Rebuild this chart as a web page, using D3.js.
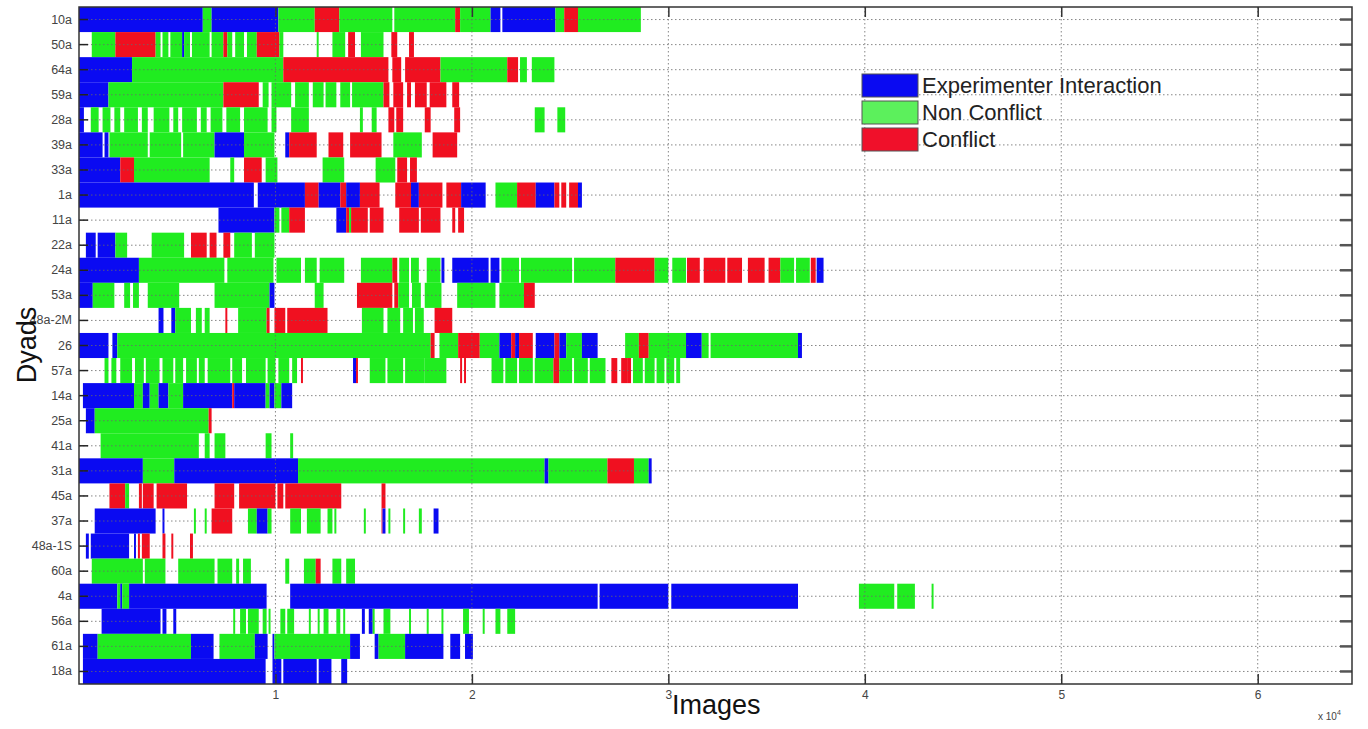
<!DOCTYPE html>
<html>
<head>
<meta charset="utf-8">
<script src="https://cdn.jsdelivr.net/npm/d3@7"></script>
<style>
  html, body { margin: 0; padding: 0; background: #fff; }
  svg { display: block; }
  .tick text { font-family: "Liberation Sans Narrow", "Arial Narrow", "Liberation Sans", sans-serif; }
</style>
</head>
<body>
<svg id="chart" width="1368" height="729"></svg>
<script>
// Dyads, top to bottom
const dyads = ["10a","50a","64a","59a","28a","39a","33a","1a","11a","22a","24a","53a","48a-2M","26",
  "57a","14a","25a","41a","31a","45a","37a","48a-1S","60a","4a","56a","61a","18a"];

// Segment types: E = experimenter interaction, N = non conflict, C = conflict
const legendLabels = ["Experimenter Interaction", "Non Conflict", "Conflict"];
const legendKeys = ["E", "N", "C"];
const xTickValues = [10000, 20000, 30000, 40000, 50000, 60000];

// Each segment: [first image, last image, type]
const d10a = [[0,6300,"E"],[6300,6750,"N"],[6750,10150,"E"],[10150,12000,"N"],[12000,13250,"C"],[13250,15950,"N"],
  [16050,19150,"N"],[19150,19400,"C"],[19400,20950,"N"],[20950,21450,"E"],[21550,24250,"E"],[24250,24700,"N"],
  [24700,25400,"C"],[25400,28600,"N"]];
const d50a = [[650,1850,"N"],[1850,3900,"C"],[3900,4150,"N"],[4250,4550,"N"],[4650,5250,"N"],[5250,5350,"E"],
  [5350,5650,"N"],[5750,6650,"N"],[6750,7350,"N"],[7350,7550,"C"],[7550,7800,"N"],[7950,8400,"N"],[8550,9050,"N"],
  [9050,10200,"C"],[10200,10400,"N"],[12100,12200,"N"],[12900,13550,"N"],[13700,14050,"C"],[14350,15500,"N"],
  [15900,16200,"C"],[16800,17050,"C"]];
const d64a = [[0,2700,"E"],[2700,10400,"N"],[10400,15750,"C"],[15950,16400,"C"],[16600,18400,"C"],[18400,21800,"N"],
  [21800,22350,"C"],[22450,22800,"N"],[23050,24200,"N"]];
const d59a = [[0,1500,"E"],[1500,7350,"N"],[7350,9150,"C"],[9350,9650,"N"],[9800,10800,"N"],[11000,11700,"N"],
  [11900,12450,"N"],[12550,13100,"N"],[13300,13800,"N"],[13900,15500,"N"],[15500,15800,"C"],[16000,16500,"C"],
  [16700,16900,"C"],[17100,17700,"C"],[17850,18700,"C"],[19000,19350,"C"]];
const d28a = [[0,250,"E"],[600,1000,"N"],[1200,1600,"N"],[1800,2100,"N"],[2300,3000,"N"],[3200,3500,"N"],[3800,4600,"N"],
  [4800,5050,"N"],[5250,6000,"N"],[6200,6500,"N"],[6700,7300,"N"],[7500,8200,"N"],[8400,9600,"N"],[9800,10050,"N"],
  [10800,11700,"N"],[14300,14450,"N"],[14900,15150,"N"],[15750,16050,"C"],[16150,16500,"C"],[17600,17900,"C"],
  [19100,19400,"C"],[23200,23700,"N"],[24350,24750,"N"]];
const d39a = [[0,1200,"E"],[1300,1500,"E"],[1550,3500,"N"],[3600,5200,"N"],[5300,6900,"N"],[6900,8400,"E"],[8400,9950,"N"],
  [10500,10700,"E"],[10700,12100,"C"],[12700,13450,"C"],[13800,15400,"C"],[16000,17450,"N"],[18000,19250,"C"]];
const d33a = [[0,2100,"E"],[2100,2800,"C"],[2800,6650,"N"],[7700,7900,"N"],[8400,9300,"C"],[9500,10100,"N"],
  [12400,13500,"N"],[15100,16100,"N"],[16200,16700,"C"],[16850,17200,"C"]];
const d1a = [[0,8900,"E"],[9100,11500,"E"],[11500,12200,"C"],[12200,13300,"E"],[13300,13600,"C"],[13600,14300,"E"],
  [14300,15300,"C"],[16100,16900,"C"],[16900,17300,"E"],[17300,18500,"C"],[18700,19450,"C"],[19450,20700,"E"],
  [21200,22300,"N"],[22300,23250,"C"],[23250,24200,"E"],[24200,24450,"C"],[24550,24800,"C"],[24950,25400,"C"],
  [25400,25600,"E"]];
const d11a = [[7100,9950,"E"],[9950,10200,"N"],[10300,10700,"N"],[10700,11500,"C"],[13100,13600,"E"],[13600,13750,"C"],
  [13750,13850,"N"],[13850,14700,"C"],[14800,15500,"C"],[16300,17300,"C"],[17400,18400,"C"],[19000,19150,"C"],
  [19300,19600,"C"]];
const d22a = [[350,850,"E"],[950,1850,"E"],[1850,2450,"N"],[3700,5350,"N"],[5700,6500,"C"],[6650,7000,"C"],
  [7350,7700,"C"],[7900,8800,"N"],[8950,9950,"N"]];
const d24a = [[0,3050,"E"],[3050,7400,"N"],[7550,9900,"N"],[10050,11300,"N"],[11500,12100,"N"],[12250,13500,"N"],
  [14350,15950,"N"],[15950,16200,"C"],[16300,16800,"N"],[16900,17300,"N"],[17700,18400,"N"],[18450,18600,"E"],
  [19000,20850,"E"],[20950,21400,"E"],[21500,22400,"N"],[22500,25100,"N"],[25200,27300,"N"],[27300,29300,"C"],
  [29300,30000,"N"],[30200,30900,"N"],[30950,31600,"C"],[31800,32900,"C"],[33000,33750,"C"],[34050,34900,"C"],
  [35100,35700,"C"],[35700,36400,"N"],[36500,37200,"N"],[37250,37500,"C"],[37550,37900,"E"]];
const d53a = [[0,700,"E"],[700,1800,"N"],[2300,2600,"N"],[2750,3050,"N"],[3500,5100,"N"],[6900,9700,"N"],[9700,9950,"E"],
  [12000,12450,"N"],[14150,15950,"C"],[16050,16250,"C"],[16250,16800,"N"],[16950,17400,"N"],[17600,18450,"N"],
  [19250,21200,"N"],[21400,22650,"N"],[22650,23200,"C"]];
const d48a2M = [[4050,4300,"E"],[4700,4900,"E"],[4900,5700,"N"],[5950,6250,"N"],[6400,6650,"N"],[7450,7550,"C"],
  [8100,9550,"N"],[9550,9700,"C"],[9950,10500,"C"],[10600,12650,"C"],[14400,15500,"N"],[15700,16350,"N"],
  [16500,17000,"N"],[17100,17550,"N"],[18100,19000,"C"]];
const d26 = [[0,1500,"E"],[1700,1950,"E"],[1950,17900,"N"],[17900,18100,"C"],[18350,19300,"N"],[19300,20400,"C"],
  [20400,21400,"N"],[21400,22000,"E"],[22000,22200,"C"],[22200,22400,"E"],[22400,23100,"C"],[23250,24200,"E"],
  [24200,24450,"C"],[24450,24800,"E"],[24800,25600,"N"],[25600,26400,"E"],[27800,28500,"N"],[28500,29000,"C"],
  [29000,30900,"N"],[30900,31700,"E"],[31700,32050,"N"],[32150,36600,"N"],[36600,36800,"E"]];
const d57a = [[1300,1500,"N"],[1650,1900,"N"],[2100,2700,"N"],[2850,3300,"N"],[3400,4100,"N"],[4250,4800,"N"],
  [4900,5300,"N"],[5450,6000,"N"],[6100,6400,"N"],[6550,7700,"N"],[7800,8300,"N"],[8500,9500,"N"],[9600,10000,"N"],
  [10150,10700,"N"],[10850,11100,"N"],[11300,11400,"C"],[13950,14100,"E"],[14100,14200,"C"],[14800,15600,"N"],
  [15700,16500,"N"],[16600,17600,"N"],[17600,18700,"N"],[19400,19500,"C"],[19600,19700,"C"],[21000,21600,"N"],
  [21700,22300,"N"],[22400,23100,"N"],[23200,24150,"N"],[24150,24450,"C"],[24450,25100,"N"],[25200,25900,"N"],
  [26000,26800,"N"],[27100,27400,"C"],[27600,27900,"C"],[27900,28100,"C"],[28200,28700,"N"],[28800,29300,"N"],
  [29400,29800,"N"],[29900,30300,"N"],[30400,30600,"N"]];
const d14a = [[200,2800,"E"],[2800,3250,"N"],[3250,3600,"E"],[3600,4050,"N"],[4050,4550,"E"],[4550,5300,"N"],
  [5300,7800,"E"],[7800,7900,"C"],[7900,9500,"E"],[9500,9700,"N"],[9700,9950,"E"],[9950,10300,"N"],[10300,10850,"E"]];
const d25a = [[350,800,"E"],[800,6600,"N"],[6600,6750,"C"]];
const d41a = [[1100,6100,"N"],[6400,6650,"N"],[6900,7450,"N"],[9500,9800,"N"],[10750,10900,"N"]];
const d31a = [[0,3250,"E"],[3250,4850,"N"],[4850,11150,"E"],[11150,23700,"N"],[23700,23900,"E"],[23900,26900,"N"],
  [26900,28250,"C"],[28250,29000,"N"],[29000,29150,"E"]];
const d45a = [[1550,2350,"C"],[2350,2550,"N"],[3050,3200,"C"],[3250,3800,"C"],[3950,5500,"C"],[6900,7900,"C"],
  [8150,10000,"C"],[10100,10400,"C"],[10500,13350,"C"],[15400,15600,"C"]];
const d37a = [[800,3900,"E"],[4250,4350,"E"],[5850,5950,"N"],[6400,6500,"N"],[6750,7800,"C"],[8600,9050,"N"],
  [9050,9600,"E"],[9600,9800,"N"],[10750,11300,"N"],[11600,12300,"N"],[12650,12900,"N"],[13000,13100,"N"],
  [14500,14600,"N"],[15400,15450,"C"],[15450,15600,"E"],[15750,15850,"N"],[16500,16600,"N"],[17300,17450,"N"],
  [18050,18300,"E"]];
const d48a1S = [[350,500,"E"],[600,2550,"E"],[2800,2900,"E"],[3000,3100,"C"],[3200,3600,"C"],[4250,4400,"C"],
  [4700,4800,"C"],[5650,5800,"C"]];
const d60a = [[650,3250,"N"],[3350,4400,"N"],[5050,6900,"N"],[7050,7800,"N"],[8000,8150,"N"],[8350,8750,"N"],
  [10500,10700,"N"],[11450,12050,"N"],[12050,12300,"C"],[12900,13350,"N"],[13600,14050,"N"]];
const d4a = [[0,1950,"E"],[1950,2100,"N"],[2100,2200,"E"],[2200,2550,"N"],[2550,9550,"E"],[10750,26400,"E"],
  [26500,30000,"E"],[30150,36600,"E"],[39700,41500,"N"],[41650,42550,"N"],[43400,43500,"N"]];
const d56a = [[1150,4150,"E"],[4250,4450,"E"],[4800,4950,"E"],[7850,7950,"N"],[8200,8500,"N"],[8600,9150,"N"],
  [9350,9550,"N"],[9650,9750,"N"],[10250,10500,"N"],[10600,10950,"N"],[11700,11800,"N"],[12150,12250,"N"],
  [12450,12700,"N"],[13100,13300,"N"],[13450,13550,"N"],[14400,14550,"E"],[14750,14950,"E"],[14950,15050,"N"],
  [15500,15850,"N"],[16800,16900,"N"],[17700,17800,"N"],[18450,18550,"N"],[19550,19850,"N"],[20550,20650,"N"],
  [21200,21450,"N"],[21800,22200,"N"]];
const d61a = [[200,950,"E"],[950,5700,"N"],[5700,6850,"E"],[7150,8950,"N"],[8950,9600,"E"],[9850,9950,"E"],
  [9950,13800,"N"],[13800,14300,"E"],[15050,15250,"E"],[15250,16600,"N"],[16600,18550,"E"],[18900,19400,"E"],
  [19650,20050,"E"]];
const d18a = [[200,9500,"E"],[9850,10300,"E"],[10400,12100,"E"],[12200,12850,"E"],[13350,13650,"E"]];

const rowSegments = [d10a,d50a,d64a,d59a,d28a,d39a,d33a,d1a,d11a,d22a,d24a,d53a,d48a2M,d26,
  d57a,d14a,d25a,d41a,d31a,d45a,d37a,d48a1S,d60a,d4a,d56a,d61a,d18a];

const fillOf = { E: "#0a0af2", N: "#20ec20", C: "#f01020" };
const legendFill = { E: "#0a0af2", N: "#5cf05c", C: "#f0102a" };

const svg = d3.select("#chart");
const plotL = 79, plotR = 1352, plotT = 7, plotB = 684;

const x = d3.scaleLinear().domain([0, 64800]).range([plotL, plotR]);
const y = d3.scaleBand().domain(dyads).range([plotT, plotB]).paddingInner(0).paddingOuter(0);

// flatten segments
const segs = [];
dyads.forEach((name, i) => {
  rowSegments[i].forEach(s => segs.push({ dyad: name, x0: s[0], x1: s[1], type: s[2] }));
});

// bars
svg.append("g").selectAll("rect").data(segs).join("rect")
  .attr("x", d => x(d.x0))
  .attr("y", d => y(d.dyad))
  .attr("width", d => Math.max(1, x(d.x1) - x(d.x0)))
  .attr("height", y.bandwidth())
  .attr("fill", d => fillOf[d.type]);

// dotted grid, drawn above the bars
const grid = svg.append("g").attr("stroke", "#6a6a6a").attr("stroke-width", 1)
  .attr("stroke-dasharray", "1.5,2.5").attr("opacity", 0.8);
grid.selectAll("line.h").data(dyads).join("line").attr("class", "h")
  .attr("x1", plotL).attr("x2", plotR)
  .attr("y1", d => y(d) + y.bandwidth() / 2).attr("y2", d => y(d) + y.bandwidth() / 2);
grid.selectAll("line.v").data(xTickValues).join("line").attr("class", "v")
  .attr("x1", d => x(d)).attr("x2", d => x(d))
  .attr("y1", plotT).attr("y2", plotB);

// bottom axis
const xAxis = d3.axisBottom(x).tickValues(xTickValues).tickFormat(d => d / 10000)
  .tickSizeInner(-10).tickSizeOuter(0).tickPadding(6);
const gx = svg.append("g").attr("transform", `translate(0,${plotB})`).call(xAxis);
gx.select(".domain").remove();
gx.selectAll(".tick line").attr("stroke", "#333").attr("stroke-width", 1.5);
gx.selectAll(".tick text").attr("font-size", 12).attr("fill", "#444");

// top tick marks
const xTop = d3.axisTop(x).tickValues(xTickValues).tickFormat("").tickSizeInner(-10).tickSizeOuter(0);
const gt = svg.append("g").attr("transform", `translate(0,${plotT})`).call(xTop);
gt.select(".domain").remove();
gt.selectAll(".tick line").attr("stroke", "#333").attr("stroke-width", 1.5);

// left axis
const yAxis = d3.axisLeft(y).tickSizeInner(-9).tickSizeOuter(0).tickPadding(7);
const gy = svg.append("g").attr("transform", `translate(${plotL},0)`).call(yAxis);
gy.select(".domain").remove();
gy.selectAll(".tick line").attr("stroke", "#222").attr("stroke-width", 1.5);
gy.selectAll(".tick text").attr("font-size", 12.5).attr("fill", "#444");

// right tick marks
const yRight = d3.axisRight(y).tickFormat("").tickSizeInner(-12).tickSizeOuter(0);
const gr = svg.append("g").attr("transform", `translate(${plotR},0)`).call(yRight);
gr.select(".domain").remove();
gr.selectAll(".tick line").attr("stroke", "#555").attr("stroke-width", 2.5);

// frame
svg.append("rect").attr("x", plotL).attr("y", plotT).attr("width", plotR - plotL).attr("height", plotB - plotT)
  .attr("fill", "none").attr("stroke", "#333").attr("stroke-width", 1.5);

// axis titles
const titleFont = '"Liberation Sans Narrow", "Arial Narrow", "Liberation Sans", sans-serif';
svg.append("text").attr("x", 672).attr("y", 714).attr("font-family", titleFont)
  .attr("font-size", 27).attr("fill", "#111").text("Images");
svg.append("text").attr("transform", "translate(36,345) rotate(-90)").attr("text-anchor", "middle")
  .attr("font-family", titleFont).attr("font-size", 27).attr("fill", "#111").text("Dyads");

// exponent note
const ex = svg.append("text").attr("x", 1318).attr("y", 720).attr("font-family", titleFont)
  .attr("font-size", 10).attr("fill", "#444");
ex.append("tspan").text("x 10");
ex.append("tspan").attr("dy", -5).attr("font-size", 7).text("4");

// legend
const legend = svg.append("g").attr("transform", "translate(862,74)");
legendKeys.forEach((k, i) => {
  const g = legend.append("g").attr("transform", `translate(0,${i * 27})`);
  g.append("rect").attr("width", 56).attr("height", 23).attr("fill", legendFill[k])
    .attr("stroke", "#555").attr("stroke-width", 1);
  g.append("text").attr("x", 60).attr("y", 19).attr("font-family", titleFont)
    .attr("font-size", 22).attr("fill", "#222").text(legendLabels[i]);
});
</script>
</body>
</html>
